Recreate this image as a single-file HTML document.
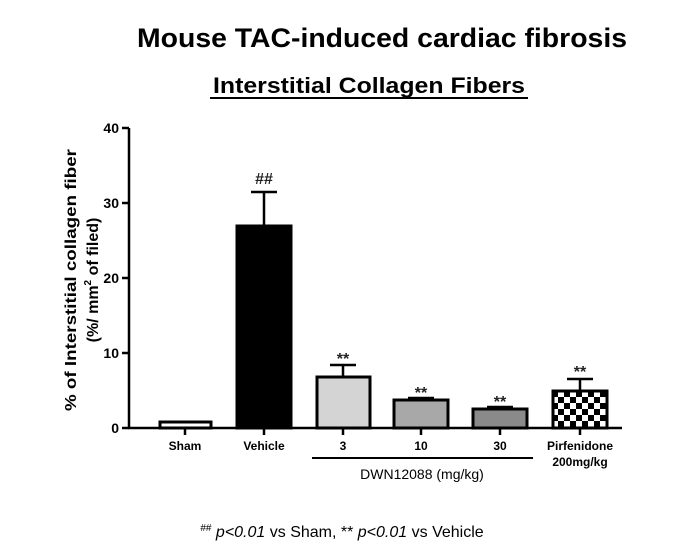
<!DOCTYPE html>
<html><head><style>body{margin:0;background:#fff;}</style></head><body>
<svg width="680" height="554" xmlns="http://www.w3.org/2000/svg" font-family="Liberation Sans, sans-serif">
<defs><pattern id="ck" width="12" height="12" patternUnits="userSpaceOnUse" x="552" y="391">
<rect width="12" height="12" fill="#fff"/><rect width="6" height="6" fill="#000"/><rect x="6" y="6" width="6" height="6" fill="#000"/></pattern></defs>
<text x="382" y="47" font-size="27" font-weight="bold" text-anchor="middle" textLength="490" lengthAdjust="spacingAndGlyphs">Mouse TAC-induced cardiac fibrosis</text>
<text x="369" y="93" font-size="22" font-weight="bold" text-anchor="middle" textLength="312" lengthAdjust="spacingAndGlyphs">Interstitial Collagen Fibers</text>
<line x1="210" y1="98" x2="528" y2="98" stroke="#000" stroke-width="2"/>
<g stroke="#000" stroke-width="2.5" fill="none">
<line x1="129" y1="128" x2="129" y2="429"/>
<line x1="128" y1="428" x2="622" y2="428"/>
<line x1="122" y1="128" x2="129" y2="128"/><line x1="122" y1="203" x2="129" y2="203"/><line x1="122" y1="278" x2="129" y2="278"/><line x1="122" y1="353" x2="129" y2="353"/><line x1="122" y1="428" x2="129" y2="428"/>
<line x1="185" y1="428" x2="185" y2="435"/><line x1="264" y1="428" x2="264" y2="435"/><line x1="343" y1="428" x2="343" y2="435"/><line x1="421" y1="428" x2="421" y2="435"/><line x1="500" y1="428" x2="500" y2="435"/><line x1="580" y1="428" x2="580" y2="435"/>
<line x1="264" y1="225" x2="264" y2="192"/><line x1="251" y1="192" x2="277" y2="192"/>
<line x1="343" y1="377" x2="343" y2="365"/><line x1="330" y1="365" x2="356" y2="365"/>
<line x1="421" y1="400" x2="421" y2="398"/><line x1="408" y1="398" x2="434" y2="398"/>
<line x1="500" y1="409" x2="500" y2="407"/><line x1="487" y1="407" x2="513" y2="407"/>
<line x1="580" y1="391" x2="580" y2="379"/><line x1="567" y1="379" x2="593" y2="379"/>
</g>
<g stroke="#000" stroke-width="3">
<rect x="160" y="422" width="51" height="6" fill="#fff"/>
<rect x="237" y="226" width="54" height="202" fill="#000"/>
<rect x="317" y="377" width="53" height="51" fill="#d4d4d4"/>
<rect x="394" y="400" width="54" height="28" fill="#a8a8a8"/>
<rect x="473" y="409" width="54" height="19" fill="#8a8a8a"/>
<rect x="553" y="391" width="54" height="37" fill="url(#ck)"/>
</g>
<g font-size="14" font-weight="bold" text-anchor="end">
<text x="119" y="133">40</text><text x="119" y="208">30</text><text x="119" y="283">20</text><text x="119" y="358">10</text><text x="119" y="433">0</text>
</g>
<g font-size="16" font-weight="bold" text-anchor="middle" fill="#222">
<text x="264" y="184">##</text>
<text x="343" y="364">**</text><text x="421" y="398">**</text><text x="500" y="407">**</text><text x="580" y="377">**</text>
</g>
<g font-size="12" font-weight="bold" text-anchor="middle">
<text x="185" y="450">Sham</text><text x="264" y="450">Vehicle</text><text x="343" y="450">3</text><text x="421" y="450">10</text><text x="500" y="450">30</text>
<text x="580" y="450">Pirfenidone</text><text x="580" y="466">200mg/kg</text>
</g>
<line x1="312" y1="458" x2="533" y2="458" stroke="#000" stroke-width="2"/>
<text x="422" y="479" font-size="14" text-anchor="middle">DWN12088 (mg/kg)</text>
<g transform="translate(76,280) rotate(-90)" font-size="16" font-weight="bold" text-anchor="middle">
<text x="0" y="0" textLength="262" lengthAdjust="spacingAndGlyphs">% of Interstitial collagen fiber</text>
<text x="0" y="22">(%/ mm<tspan font-size="10" dy="-7">2</tspan><tspan dy="7"> of filed)</tspan></text>
</g>
<text x="342" y="537" font-size="16" text-anchor="middle"><tspan font-size="10" dy="-6">##</tspan><tspan dy="6" font-style="italic"> p&lt;0.01</tspan> vs Sham, ** <tspan font-style="italic">p&lt;0.01</tspan> vs Vehicle</text>
</svg>
</body></html>
